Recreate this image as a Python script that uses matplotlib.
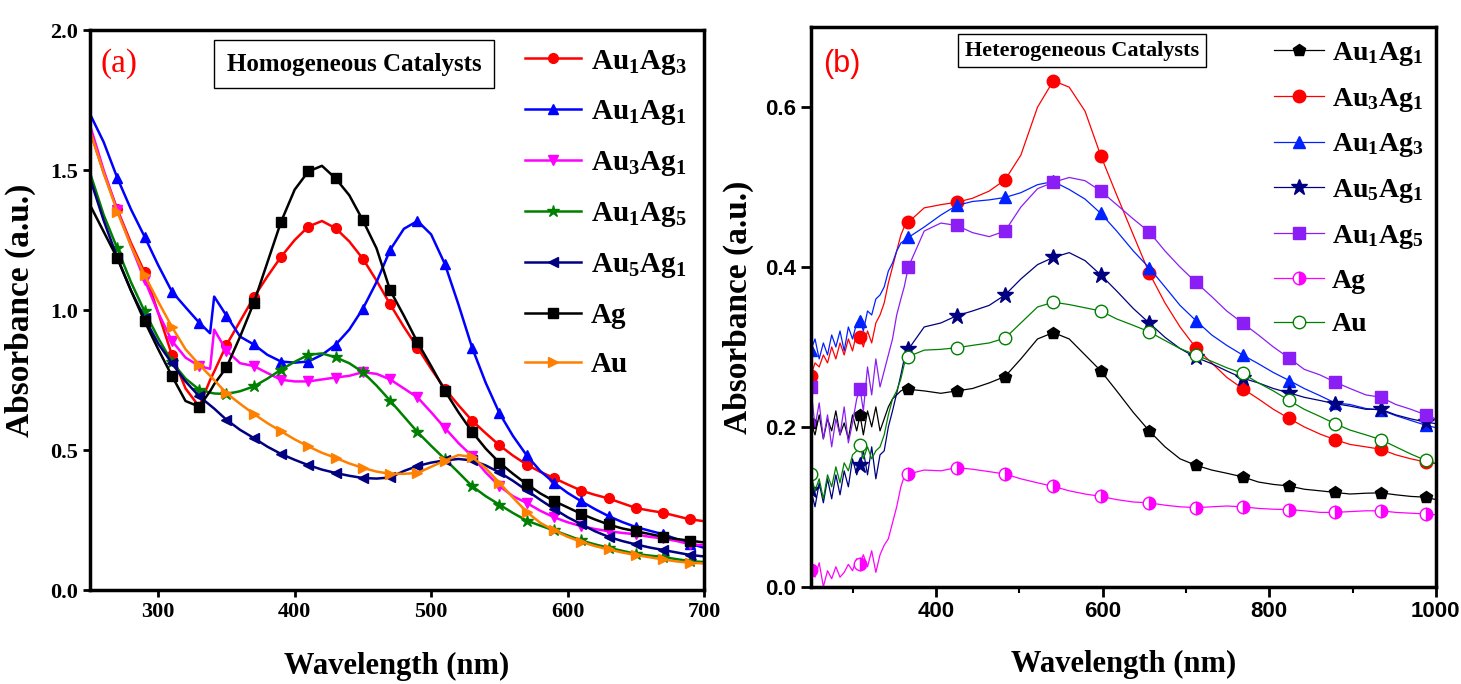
import matplotlib
matplotlib.use('Agg')
import matplotlib.pyplot as plt
from matplotlib.ticker import FormatStrFormatter, MultipleLocator

plt.rcParams['font.family'] = ['Liberation Serif', 'DejaVu Serif']
plt.rcParams['font.weight'] = 'bold'
plt.rcParams['mathtext.fontset'] = 'custom'
plt.rcParams['mathtext.rm'] = 'Liberation Serif:bold'
plt.rcParams['mathtext.it'] = 'Liberation Serif:bold'
plt.rcParams['mathtext.bf'] = 'Liberation Serif:bold'

# ---------------- (a) homogeneous catalysts ----------------
wl_a = [250, 260, 270, 280, 290, 300, 310, 320, 330, 338, 341,
        350, 360, 370, 380, 390, 400, 410, 420, 430, 440, 450, 460, 470, 480,
        490, 500, 510, 520, 530, 540, 550, 560, 570, 580, 590, 600, 610, 620,
        630, 640, 650, 660, 670, 680, 690, 700]

au1ag3_a = [1.64, 1.49, 1.36, 1.24, 1.135, 0.99, 0.84, 0.72, 0.655, 0.75, 0.78,
            0.875, 0.96, 1.045, 1.12, 1.19, 1.25, 1.298, 1.318, 1.292, 1.245, 1.183, 1.105, 1.02, 0.94,
            0.866, 0.79, 0.719, 0.66, 0.605, 0.56, 0.517, 0.48, 0.448, 0.422, 0.40, 0.377, 0.355, 0.34,
            0.327, 0.31, 0.293, 0.284, 0.276, 0.264, 0.252, 0.246]
au1ag1_a = [1.70, 1.60, 1.472, 1.36, 1.262, 1.16, 1.066, 1.01, 0.955, 0.917, 1.048,
            0.98, 0.905, 0.877, 0.84, 0.816, 0.812, 0.816, 0.84, 0.876, 0.93, 1.005, 1.10, 1.215, 1.29,
            1.318, 1.27, 1.165, 1.02, 0.866, 0.74, 0.632, 0.55, 0.481, 0.425, 0.383, 0.347, 0.317, 0.289,
            0.264, 0.243, 0.225, 0.212, 0.199, 0.182, 0.165, 0.151]
au3ag1_a = [1.66, 1.50, 1.357, 1.23, 1.108, 0.99, 0.89, 0.83, 0.80, 0.79, 0.93,
            0.855, 0.81, 0.80, 0.775, 0.751, 0.745, 0.745, 0.752, 0.759, 0.765, 0.778, 0.772, 0.752, 0.72,
            0.688, 0.635, 0.579, 0.525, 0.478, 0.42, 0.371, 0.335, 0.311, 0.283, 0.26, 0.242, 0.228, 0.218,
            0.21, 0.204, 0.199, 0.19, 0.184, 0.175, 0.163, 0.16]
au1ag5_a = [1.49, 1.34, 1.22, 1.10, 0.995, 0.90, 0.815, 0.755, 0.716, 0.705, 0.702,
            0.70, 0.71, 0.727, 0.755, 0.787, 0.815, 0.84, 0.845, 0.831, 0.81, 0.778, 0.73, 0.676, 0.62,
            0.564, 0.515, 0.468, 0.42, 0.371, 0.335, 0.305, 0.275, 0.248, 0.23, 0.213, 0.195, 0.177, 0.163,
            0.151, 0.14, 0.129, 0.123, 0.118, 0.11, 0.103, 0.10]
au5ag1_a = [1.47, 1.32, 1.187, 1.07, 0.971, 0.88, 0.81, 0.745, 0.692, 0.66, 0.648,
            0.608, 0.572, 0.543, 0.512, 0.486, 0.465, 0.446, 0.43, 0.418, 0.408, 0.40, 0.398, 0.402, 0.425,
            0.443, 0.455, 0.463, 0.468, 0.463, 0.445, 0.42, 0.39, 0.356, 0.322, 0.29, 0.26, 0.235, 0.21,
            0.19, 0.175, 0.163, 0.152, 0.143, 0.134, 0.125, 0.12]
ag_a = [1.375, 1.28, 1.185, 1.07, 0.96, 0.86, 0.765, 0.675, 0.655, 0.71, 0.735,
        0.795, 0.905, 1.025, 1.17, 1.315, 1.43, 1.495, 1.515, 1.47, 1.41, 1.32, 1.22, 1.07, 0.98,
        0.885, 0.80, 0.712, 0.635, 0.565, 0.505, 0.455, 0.415, 0.378, 0.345, 0.318, 0.295, 0.272, 0.252,
        0.234, 0.22, 0.21, 0.20, 0.19, 0.182, 0.176, 0.17]
au_a = [1.64, 1.49, 1.351, 1.23, 1.125, 1.03, 0.94, 0.86, 0.805, 0.765, 0.75,
        0.703, 0.665, 0.629, 0.596, 0.567, 0.538, 0.513, 0.49, 0.472, 0.452, 0.436, 0.423, 0.415, 0.415,
        0.418, 0.44, 0.462, 0.482, 0.475, 0.435, 0.383, 0.33, 0.279, 0.24, 0.213, 0.19, 0.172, 0.157,
        0.145, 0.134, 0.125, 0.117, 0.109, 0.102, 0.097, 0.095]

series_a = [
    (au1ag3_a, 'Au$_1$Ag$_3$', '#ff0000', 'o'),
    (au1ag1_a, 'Au$_1$Ag$_1$', '#0000ff', '^'),
    (au3ag1_a, 'Au$_3$Ag$_1$', '#ff00ff', 'v'),
    (au1ag5_a, 'Au$_1$Ag$_5$', '#008000', '*'),
    (au5ag1_a, 'Au$_5$Ag$_1$', '#000080', '<'),
    (ag_a, 'Ag', '#000000', 's'),
    (au_a, 'Au', '#ff8000', '>'),
]
xticks_a = [300, 400, 500, 600, 700]
yticks_a = [0.0, 0.5, 1.0, 1.5, 2.0]

# ---------------- (b) heterogeneous catalysts ----------------
wl_b = [250, 255, 260, 265, 270, 275, 280, 285, 290, 295, 300, 305, 309, 313, 318, 323,
        328, 333, 338, 343, 348, 353, 358, 362, 367,
        386, 406, 425, 444, 464, 483, 502, 522, 541, 560, 579, 598, 617, 637, 656, 675, 693,
        712, 731, 749, 768, 787, 805, 824, 842, 861, 879, 897, 916, 934, 952, 970, 988, 1000]
marks_b = [250, 309, 367, 425, 483, 541, 598, 656, 712, 768, 824, 879, 934, 988]

au1ag1_b = [0.205, 0.19, 0.215, 0.185, 0.21, 0.195, 0.22, 0.19, 0.205, 0.185, 0.215, 0.195, 0.215, 0.19, 0.22, 0.2,
            0.225, 0.195, 0.21, 0.225, 0.235, 0.24, 0.245, 0.247, 0.247,
            0.245, 0.242, 0.245, 0.248, 0.255, 0.263, 0.285, 0.31, 0.318, 0.31, 0.29, 0.27, 0.245, 0.218, 0.195, 0.175, 0.16,
            0.152, 0.146, 0.142, 0.1375, 0.131, 0.128, 0.126, 0.122, 0.12, 0.118, 0.116, 0.117, 0.1175, 0.115, 0.113, 0.112, 0.109]
au3ag1_b = [0.264, 0.28, 0.275, 0.29, 0.28, 0.3, 0.285, 0.305, 0.29, 0.31, 0.295, 0.318, 0.313, 0.3, 0.32, 0.305,
            0.33, 0.34, 0.355, 0.38, 0.40, 0.42, 0.44, 0.45, 0.456,
            0.474, 0.478, 0.481, 0.486, 0.495, 0.509, 0.54, 0.60, 0.633, 0.625, 0.595, 0.539, 0.49, 0.44, 0.3925, 0.355, 0.325,
            0.299, 0.28, 0.262, 0.248, 0.235, 0.222, 0.2105, 0.2, 0.191, 0.184, 0.178, 0.175, 0.172, 0.165, 0.16, 0.156, 0.154]
au1ag3_b = [0.296, 0.31, 0.285, 0.305, 0.29, 0.315, 0.3, 0.32, 0.295, 0.325, 0.31, 0.33, 0.333, 0.32, 0.345, 0.34,
            0.36, 0.365, 0.375, 0.395, 0.405, 0.42, 0.43, 0.433, 0.437,
            0.45, 0.465, 0.477, 0.482, 0.484, 0.487, 0.493, 0.503, 0.507, 0.497, 0.485, 0.467, 0.445, 0.42, 0.399, 0.375, 0.352,
            0.333, 0.315, 0.302, 0.29, 0.279, 0.268, 0.258, 0.248, 0.239, 0.23, 0.228, 0.223, 0.221, 0.214, 0.208, 0.202, 0.199]
au5ag1_b = [0.121, 0.10, 0.13, 0.105, 0.135, 0.11, 0.14, 0.115, 0.145, 0.125, 0.16, 0.14, 0.152, 0.17, 0.14, 0.175,
            0.135, 0.165, 0.17, 0.2, 0.22, 0.242, 0.265, 0.285, 0.297,
            0.325, 0.33, 0.339, 0.345, 0.352, 0.365, 0.385, 0.403, 0.412, 0.418, 0.408, 0.39, 0.37, 0.348, 0.33, 0.312, 0.298,
            0.287, 0.279, 0.27, 0.261, 0.255, 0.248, 0.2425, 0.237, 0.233, 0.229, 0.226, 0.222, 0.222, 0.215, 0.21, 0.206, 0.204]
au1ag5_b = [0.25, 0.2, 0.23, 0.185, 0.215, 0.175, 0.21, 0.19, 0.225, 0.18, 0.205, 0.235, 0.248, 0.22, 0.275, 0.24,
            0.285, 0.25, 0.27, 0.29, 0.31, 0.34, 0.36, 0.375, 0.40,
            0.445, 0.455, 0.452, 0.443, 0.438, 0.445, 0.475, 0.498, 0.506, 0.512, 0.508, 0.495, 0.478, 0.46, 0.444, 0.42, 0.40,
            0.381, 0.363, 0.345, 0.33, 0.315, 0.3, 0.286, 0.272, 0.265, 0.256, 0.248, 0.24, 0.237, 0.228, 0.222, 0.215, 0.21]
ag_b = [0.021, 0.012, 0.03, 0.0, 0.02, 0.01, 0.025, 0.012, 0.018, 0.028, 0.02, 0.035, 0.029, 0.04, 0.025, 0.045,
        0.018, 0.04, 0.052, 0.06, 0.08, 0.10, 0.125, 0.138, 0.141,
        0.146, 0.145, 0.149, 0.147, 0.144, 0.141, 0.135, 0.13, 0.1255, 0.12, 0.116, 0.113, 0.109, 0.106, 0.105, 0.102, 0.1,
        0.099, 0.1, 0.101, 0.1, 0.098, 0.097, 0.0965, 0.095, 0.093, 0.093, 0.094, 0.095, 0.095, 0.093, 0.092, 0.091, 0.09]
au_b = [0.141, 0.12, 0.135, 0.11, 0.14, 0.125, 0.15, 0.13, 0.155, 0.145, 0.165, 0.17, 0.177, 0.16, 0.175, 0.16,
        0.17, 0.175, 0.19, 0.215, 0.235, 0.245, 0.26, 0.278, 0.288,
        0.296, 0.297, 0.299, 0.302, 0.305, 0.311, 0.33, 0.35, 0.356, 0.353, 0.349, 0.345, 0.335, 0.327, 0.319, 0.308, 0.298,
        0.29, 0.282, 0.274, 0.267, 0.255, 0.245, 0.233, 0.222, 0.213, 0.204, 0.196, 0.19, 0.184, 0.175, 0.166, 0.158, 0.154]

# values, label, line colour, marker, face colour
series_b = [
    (au1ag1_b, 'Au$_1$Ag$_1$', '#000000', 'p', '#000000'),
    (au3ag1_b, 'Au$_3$Ag$_1$', '#ff0000', 'o', '#ff0000'),
    (au1ag3_b, 'Au$_1$Ag$_3$', '#0022ff', '^', '#0022ff'),
    (au5ag1_b, 'Au$_5$Ag$_1$', '#000080', '*', '#000080'),
    (au1ag5_b, 'Au$_1$Ag$_5$', '#8a1ef5', 's', '#8a1ef5'),
    (ag_b, 'Ag', '#ff00ff', 'o', '#ff00ff'),
    (au_b, 'Au', '#008000', 'o', 'white'),
]
xticks_b = [400, 600, 800, 1000]
yticks_b = [0.0, 0.2, 0.4, 0.6]

fig = plt.figure(figsize=(14.61, 6.84), dpi=100)
ax1 = fig.add_axes([0.0616, 0.1374, 0.4203, 0.8187])
ax2 = fig.add_axes([0.555, 0.1422, 0.4278, 0.818])

# panel (a)
mk_a = [i for i, w in enumerate(wl_a) if w >= 270 and w % 20 == 10]
for vals, lab, col, mk in series_a:
    ax1.plot(wl_a, vals, color=col, lw=1.8, marker=mk, markevery=mk_a,
             ms=9 if mk == '*' else 7, label=lab)

ax1.set_xlim(250, 700)
ax1.set_ylim(0, 2.0)
ax1.set_xticks(xticks_a)
ax1.set_yticks(yticks_a)
ax1.yaxis.set_major_formatter(FormatStrFormatter('%.1f'))
ax1.tick_params(direction='out', length=5, width=2, labelsize=16)
ax1.set_xlabel('Wavelength (nm)', fontsize=22, fontweight='bold', labelpad=22)
ax1.set_ylabel('Absorbance (a.u.)', fontsize=24, fontweight='bold', labelpad=10)
ax1.legend(loc='upper right', frameon=False, handlelength=1.9, borderaxespad=0.2,
           labelspacing=0.75, handletextpad=0.35,
           prop={'family': 'Liberation Serif', 'weight': 'bold', 'size': 21})
ax1.text(0.017, 0.94, '(a)', transform=ax1.transAxes, color='red', fontsize=24,
         fontweight='normal', ha='left', va='center')
ax1.text(0.43, 0.939, 'Homogeneous Catalysts', transform=ax1.transAxes, ha='center',
         va='center', fontsize=18, fontweight='bold',
         bbox=dict(boxstyle='square,pad=0.5', fc='white', ec='black', lw=1))

# panel (b)
mk_b = [wl_b.index(w) for w in marks_b]
for vals, lab, col, mk, face in series_b:
    kw = {}
    if lab == 'Ag':
        kw = dict(fillstyle='right', markerfacecoloralt='white')
    ax2.plot(wl_b, vals, color=col, lw=0.9, marker=mk, markevery=mk_b,
             ms=12 if mk == '*' else 9, mfc=face, mec=col, label=lab, **kw)

ax2.set_xlim(250, 1000)
ax2.set_ylim(0, 0.7)
ax2.set_xticks(xticks_b)
ax2.set_yticks(yticks_b)
ax2.xaxis.set_minor_locator(MultipleLocator(100))
ax2.yaxis.set_major_formatter(FormatStrFormatter('%.1f'))
ax2.tick_params(which='major', direction='out', length=7, width=2, labelsize=16)
ax2.tick_params(which='minor', direction='out', length=4, width=1.5)
for t in ax2.get_xticklabels() + ax2.get_yticklabels():
    t.set_family('Liberation Sans')
    t.set_weight('bold')
ax2.set_xlabel('Wavelength (nm)', fontsize=22, fontweight='bold', labelpad=20)
ax2.set_ylabel('Absorbance (a.u.)', fontsize=24, fontweight='bold', labelpad=8)
ax2.legend(loc='upper right', frameon=False, handlelength=1.8, borderaxespad=0.05,
           labelspacing=0.64, handletextpad=0.3,
           prop={'family': 'Liberation Serif', 'weight': 'bold', 'size': 20})
ax2.text(0.02, 0.935, '(b)', transform=ax2.transAxes, color='red', fontsize=22,
         family='Liberation Sans', fontweight='normal', ha='left', va='center')
ax2.text(0.434, 0.958, 'Heterogeneous Catalysts', transform=ax2.transAxes, ha='center',
         va='center', fontsize=16, fontweight='bold',
         bbox=dict(boxstyle='square,pad=0.3', fc='white', ec='black', lw=1))

for ax in (ax1, ax2):
    for sp in ax.spines.values():
        sp.set_linewidth(2.5)

fig.savefig('out.png', dpi=100)
